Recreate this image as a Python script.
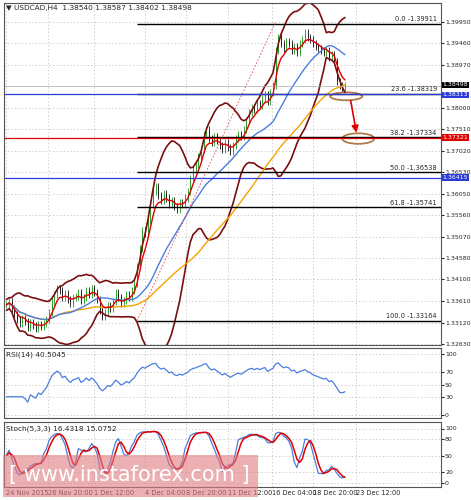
import numpy as np, pandas as pd, seaborn as sns, matplotlib
matplotlib.use("Agg")
import matplotlib.pyplot as plt
from matplotlib.patches import Ellipse, Rectangle

sns.set_style("white")
plt.rcParams['font.family'] = ['DejaVu Sans']

closes = [1.3352,1.3360,1.3345,1.3330,1.3318,1.3310,1.3322,1.3315,1.3300,1.3312,1.3305,1.3298,1.3308,1.3302,1.3310,1.3318,
 1.3335,1.3360,1.3375,1.3390,1.3385,1.3370,1.3378,1.3365,1.3355,1.3368,1.3372,1.3380,1.3362,1.3370,1.3385,1.3375,
 1.3390,1.3380,1.3365,1.3340,1.3325,1.3335,1.3350,1.3345,1.3360,1.3380,1.3370,1.3355,1.3362,1.3375,1.3368,1.3385,
 1.3400,1.3440,1.3480,1.3520,1.3515,1.3545,1.3580,1.3610,1.3620,1.3600,1.3590,1.3605,1.3595,1.3580,1.3590,1.3575,
 1.3570,1.3585,1.3580,1.3595,1.3610,1.3640,1.3660,1.3670,
 1.3690,1.3705,1.3740,1.3750,1.3730,1.3720,1.3735,1.3725,
 1.3715,1.3705,1.3720,1.3710,1.3700,1.3715,1.3730,1.3740,1.3735,1.3750,1.3770,1.3790,
 1.3800,1.3795,1.3810,1.3805,1.3820,1.3830,1.3815,1.3835,1.3850,1.3930,
 1.3960,1.3945,1.3935,1.3950,1.3945,1.3930,1.3940,1.3925,1.3945,1.3955,1.3970,1.3960,1.3955,1.3945,1.3940,
 1.3935,1.3930,1.3925,1.3930,1.3915,1.3920,1.3905,1.3860,1.3850,1.3845,1.3850]
fib_pct = ["0.0", "23.6", "38.2", "50.0", "61.8", "100.0"]
fib_val = [1.39911, 1.38319, 1.37334, 1.36538, 1.35741, 1.33164]
hlines = [1.38313, 1.37321, 1.36415]
hcolors = ["#2b3bd9", "#e00000", "#2b3bd9"]
price_ticks = [1.39950,1.39460,1.38970,1.38000,1.37510,1.37020,1.36530,1.36050,1.35560,1.35070,
               1.34580,1.34100,1.33610,1.33120,1.32630]
xlabels = ["24 Nov 2015","26 Nov 20:00","1 Dec 12:00","4 Dec 04:00","8 Dec 20:00",
           "11 Dec 12:00","16 Dec 04:00","18 Dec 20:00","23 Dec 12:00"]
xlabel_pos = [0, 15.5, 33, 52, 67.5, 83, 99.6, 115, 131]

c = pd.Series(closes)
n = len(c); x = np.arange(n)
o = c.shift(1).fillna(c[0])
hi = np.maximum(o, c) + 0.0008
lo = np.minimum(o, c) - 0.0008
ema = c.ewm(span=5).mean()
sma21 = c.rolling(21, min_periods=1).mean()
sma50 = c.rolling(50, min_periods=1).mean()
bm = c.rolling(20, min_periods=1).mean()
bs = c.rolling(20, min_periods=2).std().bfill()
up, dn = bm + 2.2*bs, bm - 2.2*bs
d = c.diff().fillna(0)
g = d.clip(lower=0).ewm(alpha=1/14).mean(); l = (-d.clip(upper=0)).ewm(alpha=1/14).mean()
rsi = 100 - 100/(1 + g/(l+1e-9))
rsi[:6] = np.nan
rsi = rsi.bfill()
hh = pd.Series(hi).rolling(5, min_periods=1).max(); ll = pd.Series(lo).rolling(5, min_periods=1).min()
k = ((c-ll).rolling(3, min_periods=1).sum()/(hh-ll).rolling(3, min_periods=1).sum()*100)
dd = k.rolling(3, min_periods=1).mean()

fig = plt.figure(figsize=(4.71, 5.0), dpi=100)
L, R = 0.008, 0.936
ax = fig.add_axes([L, 0.31, R-L, 0.684])
ax2 = fig.add_axes([L, 0.164, R-L, 0.14])
ax3 = fig.add_axes([L, 0.026, R-L, 0.13])
xmin, xmax = -1, 163
for a in (ax, ax2, ax3):
    a.set_xlim(xmin, xmax)
    a.grid(True, ls=(0, (2, 3)), color="#bbbbbb", lw=0.5)
    a.yaxis.tick_right()
    a.tick_params(labelsize=4.5, length=2, pad=1)
    for s in a.spines.values(): s.set_color("#555555"); s.set_linewidth(0.8)
    a.set_xticks(xlabel_pos); a.set_xticklabels([])

cols = np.where(c >= o, "#1a9a1a", "#111111")
ax.vlines(x, lo, hi, colors=cols, lw=0.6)
ax.bar(x, np.abs(c-o)+0.0002, bottom=np.minimum(o, c), width=0.7, color=cols)
for s, col, lw in [(up, "#7a0f0f", 1.2), (dn, "#7a0f0f", 1.2), (sma50, "#f5a300", 1.0),
                   (sma21, "#4a7ee0", 1.0), (ema, "#e00000", 1.0)]:
    sns.lineplot(x=x, y=s.values, ax=ax, color=col, lw=lw, legend=False)
for v, p in zip(fib_val, fib_pct):
    ax.hlines(v, 49, xmax, color="black", lw=1)
    ax.text(161.5, v+0.0003, f"{p} -{v:.5f}", fontsize=4.8, ha="right", va="bottom")
for v, col in zip(hlines, hcolors):
    ax.axhline(v, color=col, lw=0.9)
ax.set_ylim(1.3261, 1.4038)
ax.set_yticks(price_ticks)
ax.set_yticklabels([f"{t:.5f}" for t in price_ticks])
ax.axhline(closes[-1], color="#aaaaaa", lw=0.5)
for v, lab, col in [(closes[-1]+0.0002, "1.38498", "black"), (hlines[0]-0.0002, "1.38313", hcolors[0]),
                    (hlines[1], "1.37321", hcolors[1]), (hlines[2], "1.36415", hcolors[2])]:
    ax.text(1.004, v, lab, transform=ax.get_yaxis_transform(),
            fontsize=4.5, color="white", va="center", ha="left",
            bbox=dict(boxstyle="square,pad=0.12", fc=col, ec="none"))
ax.plot([49, 101], [1.3316, 1.3995], color="#e05050", lw=0.6, ls=(0, (2, 2)))
ax.add_patch(Ellipse((127.5, 1.3826), 12, 0.0018, fill=False, ec="#b07a4a", lw=1.3))
ax.add_patch(Ellipse((132, 1.3730), 12, 0.0024, fill=False, ec="#b07a4a", lw=1.3))
ax.annotate("", xy=(131.5, 1.3737), xytext=(129, 1.3822),
            arrowprops=dict(arrowstyle="-|>", color="#e00000", lw=1.2))
ax.text(0.005, 0.995, "\u25bc USDCAD,H4  1.38540 1.38587 1.38402 1.38498", transform=ax.transAxes,
        fontsize=5.3, va="top")

rr = rsi.values.copy(); rr[124] = np.nan
sns.lineplot(x=x, y=rr, ax=ax2, color="#4a7ee0", lw=0.9, legend=False)
ax2.set_ylim(-5, 110); ax2.set_yticks([0, 30, 50, 70, 100])
ax2.text(0.005, 0.95, "RSI(14) 40.5045", transform=ax2.transAxes, fontsize=5.3, va="top")

sns.lineplot(x=x, y=k.values, ax=ax3, color="#4a7ee0", lw=0.9, legend=False)
sns.lineplot(x=x, y=dd.values, ax=ax3, color="#e00000", lw=1.1, legend=False)
ax3.set_ylim(-8, 112); ax3.set_yticks([0, 20, 50, 80, 100])
ax3.text(0.005, 0.95, "Stoch(5,3,3) 16.4318 15.0752", transform=ax3.transAxes, fontsize=5.3, va="top")
ax3.set_xticklabels(xlabels, fontsize=4.8)
for t in ax3.get_xticklabels(): t.set_horizontalalignment("left")
ax3.tick_params(axis="x", length=0, pad=2)

fig.patches.append(Rectangle((0.006, 0.006), 0.542, 0.084, transform=fig.transFigure,
                             fc="#e07a80", alpha=0.6, ec="none", zorder=5))
fig.text(0.275, 0.05, "[ www.instaforex.com ]", fontsize=15, color="white", ha="center",
         va="center", zorder=6)
fig.savefig("out.png", dpi=100)
